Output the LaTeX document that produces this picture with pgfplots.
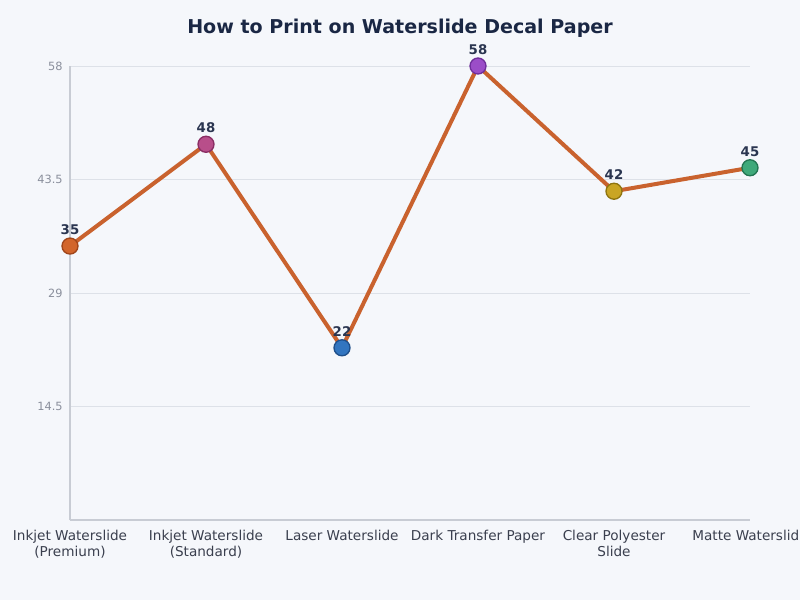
\documentclass[border=0pt]{standalone}
\usepackage{pgfplots}
\pgfplotsset{compat=1.18}
\usepackage{fontspec}
\setmainfont{DejaVu Sans}

\definecolor{bg}{HTML}{F5F7FB}
\definecolor{titlecol}{HTML}{1A2744}
\definecolor{valcol}{HTML}{2A3550}
\definecolor{tickcol}{HTML}{8A8F9C}
\definecolor{labcol}{HTML}{3A3F4E}
\definecolor{axiscol}{HTML}{C8CCD4}
\definecolor{gridcol}{HTML}{DDE1E8}
\definecolor{linecol}{HTML}{C9622E}
\definecolor{mA}{HTML}{D2652B}\definecolor{eA}{HTML}{A0451A}
\definecolor{mB}{HTML}{B84E8A}\definecolor{eB}{HTML}{8A2E64}
\definecolor{mC}{HTML}{3275C0}\definecolor{eC}{HTML}{1F4F8A}
\definecolor{mD}{HTML}{9B4DC8}\definecolor{eD}{HTML}{6E2E9A}
\definecolor{mE}{HTML}{C9A524}\definecolor{eE}{HTML}{8E7410}
\definecolor{mF}{HTML}{3FA97A}\definecolor{eF}{HTML}{237552}

\begin{document}
\begin{tikzpicture}[x=0.75pt,y=0.75pt]
% page is 800x600 px; axis origin sits at px (70,520)
\fill[bg] (-70,-80) rectangle (730,520);
\begin{axis}[
    at={(0,0)}, anchor=origin,
    scale only axis,
    width=510pt, height=340.5pt,
    xmin=0, xmax=5, ymin=0, ymax=58,
    axis lines*=left,
    axis line style={axiscol, line width=0.8pt},
    every outer x axis line/.append style={-},
    every outer y axis line/.append style={-},
    ytick={14.5,29,43.5,58},
    yticklabels={14.5,29,43.5,58},
    xtick={0,1,2,3,4,5},
    xticklabels={{Inkjet Waterslide\\(Premium)},{Inkjet Waterslide\\(Standard)},Laser Waterslide,Dark Transfer Paper,{Clear Polyester\\Slide},Matte Waterslide},
    major tick length=0pt,
    ymajorgrids,
    grid style={gridcol, line width=0.7pt},
    yticklabel style={font=\fontsize{8.5}{10}\selectfont, text=tickcol, xshift=-2pt},
    xticklabel style={font=\fontsize{10.2}{11.8}\selectfont, text=labcol, align=center, yshift=-4pt},
    /pgf/number format/assume math mode=true,
    clip=false,
]
\addplot[linecol, line width=3pt, line join=round] table {
x y
0 35
1 48
2 22
3 58
4 42
5 45
};
\addplot[scatter, only marks, mark=*, mark size=6pt,
    point meta=explicit symbolic,
    scatter/classes={
        a={mark=*, fill=mA, draw=eA, line width=1pt},
        b={mark=*, fill=mB, draw=eB, line width=1pt},
        c={mark=*, fill=mC, draw=eC, line width=1pt},
        d={mark=*, fill=mD, draw=eD, line width=1pt},
        e={mark=*, fill=mE, draw=eE, line width=1pt},
        f={mark=*, fill=mF, draw=eF, line width=1pt}}]
table[meta=c] {
x y c
0 35 a
1 48 b
2 22 c
3 58 d
4 42 e
5 45 f
};
\addplot[draw=none, mark=none,
    nodes near coords,
    every node near coord/.append style={font=\bfseries\fontsize{10}{11}\selectfont, text=valcol, anchor=south, yshift=5pt}]
table {
x y
0 35
1 48
2 22
3 58
4 42
5 45
};
\end{axis}
\node[font=\bfseries\fontsize{14.3}{16}\selectfont, text=titlecol] at (330,492) {How to Print on Waterslide Decal Paper};
\pgfresetboundingbox
\useasboundingbox (-70,-80) rectangle (730,520);
\end{tikzpicture}
\end{document}
